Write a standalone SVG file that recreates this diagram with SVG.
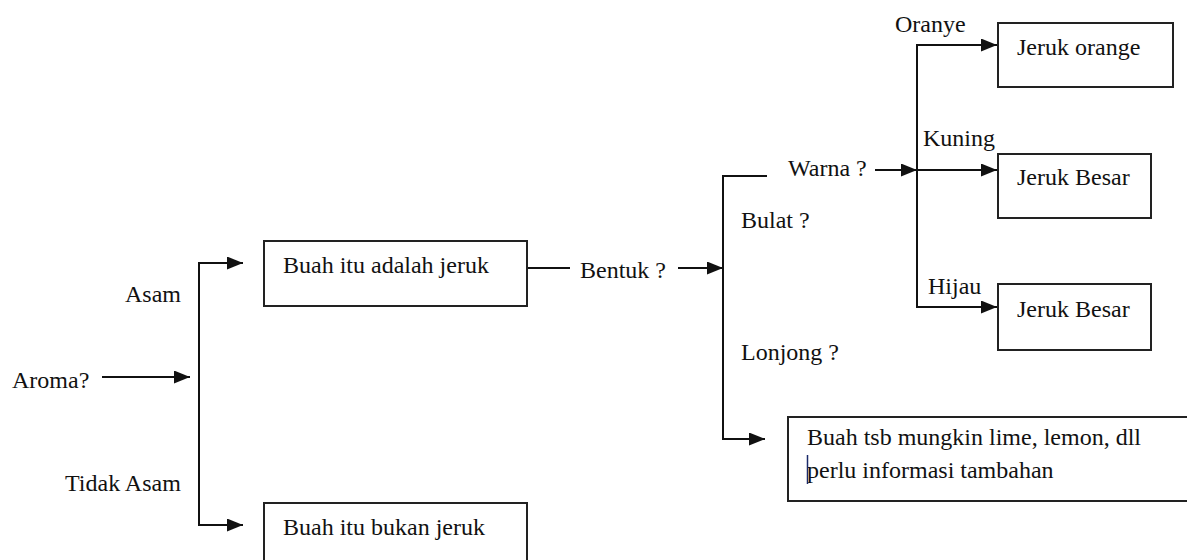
<svg xmlns="http://www.w3.org/2000/svg" width="1187" height="560" viewBox="0 0 1187 560">
  <defs>
    <marker id="arrow" viewBox="0 0 16 13" refX="16" refY="6.5" markerWidth="16" markerHeight="13" markerUnits="userSpaceOnUse" orient="auto">
      <path d="M0,0 L16,6.5 L0,13 Z" fill="#111"/>
    </marker>
    <style>
      .box { fill: #fff; stroke: #222; stroke-width: 2; }
      .line { fill: none; stroke: #111; stroke-width: 2; }
      .arr { fill: none; stroke: #111; stroke-width: 2; marker-end: url(#arrow); }
      .t { font-family: 'Liberation Serif', 'DejaVu Serif', serif; font-size: 24px; fill: #111; }
    </style>
  </defs>
  <rect width="1187" height="560" fill="#fff"/>

  <!-- connectors -->
  <g id="connectors">
    <!-- Aroma split -->
    <line class="arr" x1="102" y1="377" x2="190" y2="377"/>
    <line class="line" x1="199" y1="262" x2="199" y2="526"/>
    <line class="arr" x1="198" y1="263" x2="243" y2="263"/>
    <line class="arr" x1="198" y1="525" x2="243" y2="525"/>
    <!-- Bentuk split -->
    <line class="line" x1="527" y1="268" x2="570" y2="268"/>
    <line class="arr" x1="678" y1="268" x2="723" y2="268"/>
    <line class="line" x1="723" y1="175" x2="723" y2="440"/>
    <line class="line" x1="722" y1="176" x2="767" y2="176"/>
    <line class="arr" x1="722" y1="439" x2="765" y2="439"/>
    <!-- Warna split -->
    <line class="arr" x1="875" y1="170" x2="917" y2="170"/>
    <line class="line" x1="917" y1="44" x2="917" y2="308"/>
    <line class="arr" x1="916" y1="45" x2="997" y2="45"/>
    <line class="arr" x1="917" y1="170" x2="997" y2="170"/>
    <line class="arr" x1="916" y1="307" x2="997" y2="307"/>
  </g>

  <!-- branch labels -->
  <g id="labels" class="t" font-family="Liberation Serif, serif">
    <text x="12" y="388">Aroma?</text>
    <text x="125" y="302">Asam</text>
    <text x="65" y="491">Tidak Asam</text>
    <text x="580" y="278">Bentuk ?</text>
    <text x="788" y="176">Warna ?</text>
    <text x="741" y="228">Bulat ?</text>
    <text x="741" y="360">Lonjong ?</text>
    <text x="895" y="32">Oranye</text>
    <text x="923" y="146">Kuning</text>
    <text x="928" y="294">Hijau</text>
  </g>

  <g id="node-jeruk" class="t">
    <rect class="box" x="264" y="241" width="263" height="65"/>
    <text x="283" y="273">Buah itu adalah jeruk</text>
  </g>

  <g id="node-bukan-jeruk" class="t">
    <rect class="box" x="264" y="503" width="263" height="72"/>
    <text x="283" y="535">Buah itu bukan jeruk</text>
  </g>

  <g id="node-jeruk-orange" class="t">
    <rect class="box" x="998" y="23" width="175" height="64"/>
    <text x="1017" y="55">Jeruk orange</text>
  </g>

  <g id="node-jeruk-besar-kuning" class="t">
    <rect class="box" x="998" y="154" width="153" height="64"/>
    <text x="1017" y="185">Jeruk Besar</text>
  </g>

  <g id="node-jeruk-besar-hijau" class="t">
    <rect class="box" x="998" y="284" width="153" height="66"/>
    <text x="1017" y="317">Jeruk Besar</text>
  </g>

  <g id="node-lonjong" class="t">
    <rect class="box" x="788" y="417" width="410" height="84"/>
    <text x="807" y="445">Buah tsb mungkin lime, lemon, dll</text>
    <text x="807" y="478">perlu informasi tambahan</text>
    <line x1="807.5" y1="455" x2="807.5" y2="484" stroke="#1a2a6a" stroke-width="1.5"/>
  </g>
</svg>
